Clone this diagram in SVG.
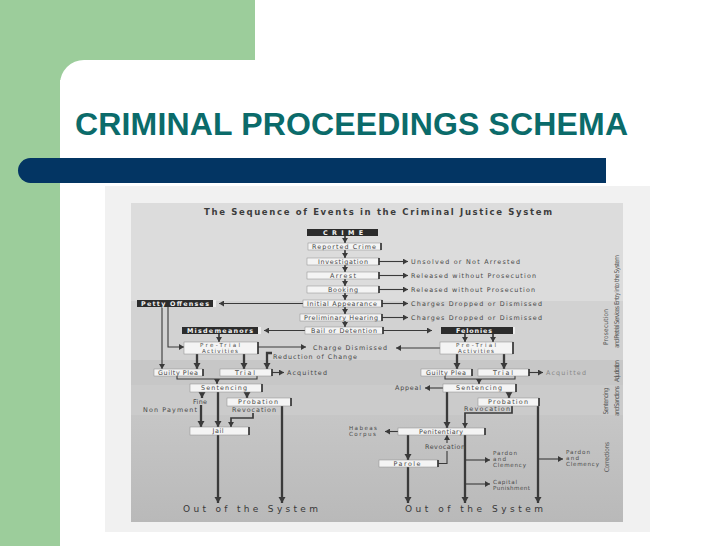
<svg xmlns="http://www.w3.org/2000/svg" width="728" height="546" viewBox="0 0 728 546">
<defs>
<style>
.t{font-family:"DejaVu Sans","Liberation Sans",sans-serif;font-size:6.4px;fill:#484848}
.ts{font-family:"DejaVu Sans","Liberation Sans",sans-serif;font-size:5.6px;fill:#4a4a4a}
.tw{font-family:"DejaVu Sans","Liberation Sans",sans-serif;font-size:6.4px;fill:#f2f2f2;font-weight:bold}
.lb{fill:#f4f4f4;stroke:#8c8c8c;stroke-width:0.5}
.rim{stroke:#2e2e2e;stroke-width:1.6}
.db{fill:#2c2c2c}
.dr{fill:#ececec}
.ln{stroke:#3a3a3a;stroke-width:1.1;fill:none}
.md{stroke:#3a3a3a;stroke-width:1.7;fill:none}
.th{stroke:#3a3a3a;stroke-width:2.3;fill:none}
.sec{font-family:"DejaVu Sans Condensed","DejaVu Sans",sans-serif;font-size:6.5px;fill:#555}
.out{font-family:"DejaVu Sans",sans-serif;font-size:9px;fill:#383838}
</style>
<marker id="a" markerUnits="userSpaceOnUse" markerWidth="6" markerHeight="6" refX="5" refY="3" orient="auto"><path d="M0,0 L5,3 L0,6 z" fill="#3a3a3a"/></marker>
<marker id="b" markerUnits="userSpaceOnUse" markerWidth="8" markerHeight="8" refX="6" refY="3.5" orient="auto"><path d="M0,0 L6,3.5 L0,7 z" fill="#3a3a3a"/></marker>
<linearGradient id="g" x1="0" y1="0" x2="0" y2="1"><stop offset="0" stop-color="#c6c6c6"/><stop offset="1" stop-color="#b9b9b9"/></linearGradient>
</defs>

<g id="slide">
<rect x="0" y="0" width="728" height="546" fill="#ffffff"/>
<rect x="0" y="0" width="255" height="80" fill="#9ccd9b"/>
<rect x="0" y="0" width="60" height="546" fill="#9ccd9b"/>
<rect x="60" y="60" width="700" height="520" rx="24" fill="#ffffff"/>
<text x="75" y="135" font-family="Liberation Sans, Arial, sans-serif" font-size="32" font-weight="bold" fill="#0b6b6a" textLength="553">CRIMINAL PROCEEDINGS SCHEMA</text>
<path d="M30.5,158 H606 V183 H30.5 A12.5,12.5 0 0 1 30.5,158 Z" fill="#033563"/>
</g>

<g id="scan-background">
<rect x="105" y="186" width="545" height="346" fill="#f1f1f1"/>
<rect x="131" y="203" width="492" height="98" fill="#dcdcdc"/>
<rect x="131" y="301" width="492" height="59" fill="#d2d2d2"/>
<rect x="131" y="360" width="492" height="25" fill="#c7c7c7"/>
<rect x="131" y="385" width="492" height="30" fill="#cbcbcb"/>
<rect x="131" y="415" width="492" height="107" fill="url(#g)"/>
<text x="204" y="215" font-family="DejaVu Sans, sans-serif" font-size="8.5" font-weight="bold" fill="#3c3c3c" textLength="348">The Sequence of Events in the Criminal Justice System</text>
</g>

<g id="section-labels">
<text class="sec" transform="translate(619,280) rotate(-90)" text-anchor="middle" textLength="50">Entry into the System</text>
<text class="sec" transform="translate(608,327) rotate(-90)" text-anchor="middle" textLength="36">Prosecution</text>
<text class="sec" transform="translate(619,327) rotate(-90)" text-anchor="middle" textLength="42">and Pretrial Services</text>
<text class="sec" transform="translate(619,371) rotate(-90)" text-anchor="middle" textLength="22">Adjudication</text>
<text class="sec" transform="translate(608,401) rotate(-90)" text-anchor="middle" textLength="27">Sentencing</text>
<text class="sec" transform="translate(619,401) rotate(-90)" text-anchor="middle" textLength="30">and Sanctions</text>
<text class="sec" transform="translate(609,457) rotate(-90)" text-anchor="middle" textLength="30">Corrections</text>
</g>

<g id="connectors">
<line class="md" x1="345" y1="236" x2="345" y2="243" marker-end="url(#a)"/>
<line class="md" x1="345" y1="250" x2="345" y2="258" marker-end="url(#a)"/>
<line class="md" x1="345" y1="265" x2="345" y2="272" marker-end="url(#a)"/>
<line class="md" x1="345" y1="279" x2="345" y2="286" marker-end="url(#a)"/>
<line class="md" x1="345" y1="293" x2="345" y2="300" marker-end="url(#a)"/>
<line class="md" x1="345" y1="307" x2="345" y2="314" marker-end="url(#a)"/>
<line class="md" x1="345" y1="321" x2="345" y2="327" marker-end="url(#a)"/>
<line class="ln" x1="379" y1="261.5" x2="408" y2="261.5" marker-end="url(#a)"/>
<line class="ln" x1="379" y1="275.5" x2="408" y2="275.5" marker-end="url(#a)"/>
<line class="ln" x1="379" y1="289.5" x2="408" y2="289.5" marker-end="url(#a)"/>
<line class="ln" x1="382" y1="303.5" x2="408" y2="303.5" marker-end="url(#a)"/>
<line class="ln" x1="382" y1="317.5" x2="408" y2="317.5" marker-end="url(#a)"/>
<line class="ln" x1="383" y1="330.5" x2="432" y2="330.5" marker-end="url(#a)"/>
<line class="ln" x1="303" y1="303.5" x2="219" y2="303.5" marker-end="url(#a)"/>
<line class="ln" x1="305" y1="330.5" x2="264" y2="330.5" marker-end="url(#a)"/>
<line class="ln" x1="162" y1="307" x2="162" y2="369" marker-end="url(#a)"/>
<path class="ln" d="M168,307 V347 H184" marker-end="url(#a)"/>
<line class="md" x1="219" y1="334" x2="219" y2="342" marker-end="url(#a)"/>
<line class="ln" x1="258" y1="347" x2="306" y2="347" marker-end="url(#a)"/>
<line class="ln" x1="440" y1="348" x2="396" y2="348" marker-end="url(#a)"/>
<path class="th" d="M272,353 H267 V369" marker-end="url(#b)"/>
<line class="th" x1="197" y1="354" x2="197" y2="369" marker-end="url(#b)"/>
<line class="th" x1="244" y1="354" x2="244" y2="369" marker-end="url(#b)"/>
<line class="ln" x1="272" y1="372.5" x2="284" y2="372.5" marker-end="url(#a)"/>
<path class="ln" d="M177,376 V379 H257 V376"/>
<line class="md" x1="217" y1="379" x2="217" y2="384" marker-end="url(#a)"/>
<line class="th" x1="202" y1="392" x2="202" y2="398" marker-end="url(#b)"/>
<line class="th" x1="247" y1="392" x2="247" y2="398" marker-end="url(#b)"/>
<line class="th" x1="218" y1="392" x2="218" y2="427" marker-end="url(#b)"/>
<line class="th" x1="201" y1="405" x2="201" y2="427" marker-end="url(#b)"/>
<path class="md" d="M253,413 V418 H231 V427" marker-end="url(#a)"/>
<line class="th" x1="218" y1="435" x2="218" y2="503" marker-end="url(#b)"/>
<line class="th" x1="282" y1="406" x2="282" y2="503" marker-end="url(#b)"/>
<line class="md" x1="465" y1="334" x2="465" y2="342" marker-end="url(#a)"/>
<line class="md" x1="493" y1="334" x2="493" y2="342" marker-end="url(#a)"/>
<line class="th" x1="457" y1="354" x2="457" y2="369" marker-end="url(#b)"/>
<line class="th" x1="504" y1="354" x2="504" y2="369" marker-end="url(#b)"/>
<line class="ln" x1="529" y1="372.5" x2="543" y2="372.5" marker-end="url(#a)"/>
<path class="ln" d="M445,376 V379 H515 V376"/>
<line class="md" x1="479" y1="379" x2="479" y2="384" marker-end="url(#a)"/>
<line class="ln" x1="443" y1="388" x2="425" y2="388" marker-end="url(#a)"/>
<line class="th" x1="509" y1="392" x2="509" y2="398" marker-end="url(#b)"/>
<line class="th" x1="538" y1="406" x2="538" y2="503" marker-end="url(#b)"/>
<path class="md" d="M512,406 V413 H465 V428" marker-end="url(#a)"/>
<line class="th" x1="447" y1="392" x2="447" y2="428" marker-end="url(#b)"/>
<line class="ln" x1="398" y1="431.5" x2="385" y2="431.5" marker-end="url(#a)"/>
<line class="th" x1="408" y1="435" x2="408" y2="460" marker-end="url(#b)"/>
<line class="th" x1="408" y1="467" x2="408" y2="503" marker-end="url(#b)"/>
<path class="ln" d="M438,463.5 H447 V451"/>
<line class="ln" x1="447" y1="443" x2="447" y2="435" marker-end="url(#a)"/>
<line class="th" x1="465" y1="435" x2="465" y2="503" marker-end="url(#b)"/>
<line class="ln" x1="465" y1="460" x2="490" y2="460" marker-end="url(#a)"/>
<line class="ln" x1="465" y1="484" x2="490" y2="484" marker-end="url(#a)"/>
<line class="ln" x1="538" y1="459" x2="563" y2="459" marker-end="url(#a)"/>
</g>

<g id="n-crime"><rect class="db" x="307" y="229" width="71" height="7"/><text class="tw" x="343" y="234.9" text-anchor="middle" textLength="40">CRIME</text></g>
<g id="n-reported"><rect class="lb" x="308" y="243" width="73" height="7"/><line class="rim" x1="381" y1="243" x2="381" y2="250"/><text class="t" x="344" y="248.7" text-anchor="middle" textLength="64">Reported Crime</text></g>
<g id="n-investigation"><rect class="lb" x="307" y="258" width="72" height="7"/><line class="rim" x1="379" y1="258" x2="379" y2="265"/><text class="t" x="343" y="263.7" text-anchor="middle" textLength="50">Investigation</text></g>
<g id="n-arrest"><rect class="lb" x="307" y="272" width="72" height="7"/><line class="rim" x1="379" y1="272" x2="379" y2="279"/><text class="t" x="343" y="277.7" text-anchor="middle" textLength="26">Arrest</text></g>
<g id="n-booking"><rect class="lb" x="307" y="286" width="72" height="7"/><line class="rim" x1="379" y1="286" x2="379" y2="293"/><text class="t" x="343" y="291.7" text-anchor="middle" textLength="30">Booking</text></g>
<g id="n-initial"><rect class="lb" x="303" y="300" width="79" height="7"/><line class="rim" x1="382" y1="300" x2="382" y2="307"/><text class="t" x="342" y="305.7" text-anchor="middle" textLength="70">Initial Appearance</text></g>
<g id="n-prelim"><rect class="lb" x="300" y="314" width="82" height="7"/><line class="rim" x1="382" y1="314" x2="382" y2="321"/><text class="t" x="341" y="319.7" text-anchor="middle" textLength="74">Preliminary Hearing</text></g>
<g id="n-bail"><rect class="lb" x="305" y="327" width="78" height="7"/><line class="rim" x1="383" y1="327" x2="383" y2="334"/><text class="t" x="344" y="332.7" text-anchor="middle" textLength="66">Bail or Detention</text></g>

<g id="t-outcomes">
<text class="t" x="411" y="263.7" textLength="109">Unsolved or Not Arrested</text>
<text class="t" x="411" y="277.7" textLength="125">Released without Prosecution</text>
<text class="t" x="411" y="291.7" textLength="124">Released without Prosecution</text>
<text class="t" x="411" y="305.7" textLength="131">Charges Dropped or Dismissed</text>
<text class="t" x="411" y="319.7" textLength="131">Charges Dropped or Dismissed</text>
</g>

<g id="n-petty"><rect class="db" x="137" y="300" width="76" height="7"/><rect class="dr" x="213" y="300" width="3" height="7"/><text class="tw" x="175" y="305.6" text-anchor="middle" textLength="68">Petty Offenses</text></g>
<g id="n-misd"><rect class="db" x="182" y="327" width="76" height="7"/><rect class="dr" x="258" y="327" width="3" height="7"/><text class="tw" x="220" y="332.6" text-anchor="middle" textLength="66">Misdemeanors</text></g>
<g id="n-fel"><rect class="db" x="441" y="327" width="72" height="7"/><rect class="dr" x="513" y="327" width="2" height="7"/><text class="tw" x="474" y="332.6" text-anchor="middle" textLength="36">Felonies</text></g>

<g id="n-pretrial-m"><rect class="lb" x="184" y="342" width="74" height="12"/><line class="rim" x1="258" y1="342" x2="258" y2="354"/><text class="ts" x="220" y="347.3" text-anchor="middle" textLength="40">Pre-Trial</text><text class="ts" x="220" y="352.6" text-anchor="middle" textLength="36">Activities</text></g>
<g id="t-charge-dismissed"><text class="t" x="313" y="349.5" textLength="74">Charge Dismissed</text></g>
<g id="t-reduction"><text class="t" x="273" y="358.6" textLength="84">Reduction of Change</text></g>
<g id="n-guilty-m"><rect class="lb" x="154" y="369" width="49" height="7"/><line class="rim" x1="203" y1="369" x2="203" y2="376"/><text class="t" x="178" y="374.7" text-anchor="middle" textLength="40">Guilty Plea</text></g>
<g id="n-trial-m"><rect class="lb" x="220" y="369" width="52" height="7"/><line class="rim" x1="272" y1="369" x2="272" y2="376"/><text class="t" x="245" y="374.7" text-anchor="middle" textLength="20">Trial</text></g>
<g id="t-acq-m"><text class="t" x="287" y="375" textLength="40">Acquitted</text></g>
<g id="n-sent-m"><rect class="lb" x="190" y="384" width="72" height="8"/><line class="rim" x1="262" y1="384" x2="262" y2="392"/><text class="t" x="224" y="390.2" text-anchor="middle" textLength="46">Sentencing</text></g>
<g id="t-fine"><text class="t" x="200" y="403.5" text-anchor="middle" textLength="14">Fine</text></g>
<g id="t-nonpay"><text class="t" x="197" y="412" text-anchor="end" textLength="54">Non Payment</text></g>
<g id="n-prob-m"><rect class="lb" x="227" y="398" width="64" height="8"/><line class="rim" x1="291" y1="398" x2="291" y2="406"/><text class="t" x="258" y="404.2" text-anchor="middle" textLength="40">Probation</text></g>
<g id="t-revoc-m"><text class="t" x="254" y="411.5" text-anchor="middle" textLength="44">Revocation</text></g>
<g id="n-jail"><rect class="lb" x="190" y="427" width="59" height="8"/><line class="rim" x1="249" y1="427" x2="249" y2="435"/><text class="t" x="218" y="433.2" text-anchor="middle" textLength="11">Jail</text></g>
<g id="t-out-m"><text class="out" x="183" y="511.5" textLength="135">Out of the System</text></g>

<g id="n-pretrial-f"><rect class="lb" x="440" y="342" width="73" height="12"/><line class="rim" x1="513" y1="342" x2="513" y2="354"/><text class="ts" x="476" y="347.3" text-anchor="middle" textLength="40">Pre-Trial</text><text class="ts" x="476" y="352.6" text-anchor="middle" textLength="36">Activities</text></g>
<g id="n-guilty-f"><rect class="lb" x="421" y="369" width="51" height="7"/><line class="rim" x1="472" y1="369" x2="472" y2="376"/><text class="t" x="446" y="374.7" text-anchor="middle" textLength="40">Guilty Plea</text></g>
<g id="n-trial-f"><rect class="lb" x="478" y="369" width="51" height="7"/><line class="rim" x1="529" y1="369" x2="529" y2="376"/><text class="t" x="503" y="374.7" text-anchor="middle" textLength="20">Trial</text></g>
<g id="t-acq-f"><text class="t" x="546" y="375" textLength="40" style="fill:#888">Acquitted</text></g>
<g id="n-sent-f"><rect class="lb" x="443" y="384" width="73" height="8"/><line class="rim" x1="516" y1="384" x2="516" y2="392"/><text class="t" x="479" y="390.2" text-anchor="middle" textLength="46">Sentencing</text></g>
<g id="t-appeal"><text class="t" x="421" y="390.3" text-anchor="end" textLength="26">Appeal</text></g>
<g id="n-prob-f"><rect class="lb" x="478" y="398" width="61" height="8"/><line class="rim" x1="539" y1="398" x2="539" y2="406"/><text class="t" x="508" y="404.2" text-anchor="middle" textLength="40">Probation</text></g>
<g id="t-revoc-f"><text class="t" x="487" y="410.8" text-anchor="middle" textLength="46">Revocation</text></g>
<g id="n-penit"><rect class="lb" x="398" y="428" width="87" height="7"/><line class="rim" x1="485" y1="428" x2="485" y2="435"/><text class="t" x="441" y="433.7" text-anchor="middle" textLength="44">Penitentiary</text></g>
<g id="t-habeas"><text class="ts" x="349" y="430" textLength="28">Habeas</text><text class="ts" x="349" y="436" textLength="27">Corpus</text></g>
<g id="t-revoc-p"><text class="t" x="445" y="449" text-anchor="middle" textLength="40">Revocation</text></g>
<g id="n-parole"><rect class="lb" x="379" y="460" width="59" height="7"/><line class="rim" x1="438" y1="460" x2="438" y2="467"/><text class="t" x="407" y="465.7" text-anchor="middle" textLength="27">Parole</text></g>
<g id="t-pardon1"><text class="ts" x="493" y="455" textLength="24">Pardon</text><text class="ts" x="493" y="461" textLength="13">and</text><text class="ts" x="493" y="467" textLength="33">Clemency</text></g>
<g id="t-capital"><text class="ts" x="493" y="484" textLength="24">Capital</text><text class="ts" x="493" y="490" textLength="37">Punishment</text></g>
<g id="t-pardon2"><text class="ts" x="566" y="454" textLength="24">Pardon</text><text class="ts" x="566" y="460" textLength="13">and</text><text class="ts" x="566" y="466" textLength="33">Clemency</text></g>
<g id="t-out-f"><text class="out" x="405" y="511.5" textLength="138">Out of the System</text></g>
</svg>
